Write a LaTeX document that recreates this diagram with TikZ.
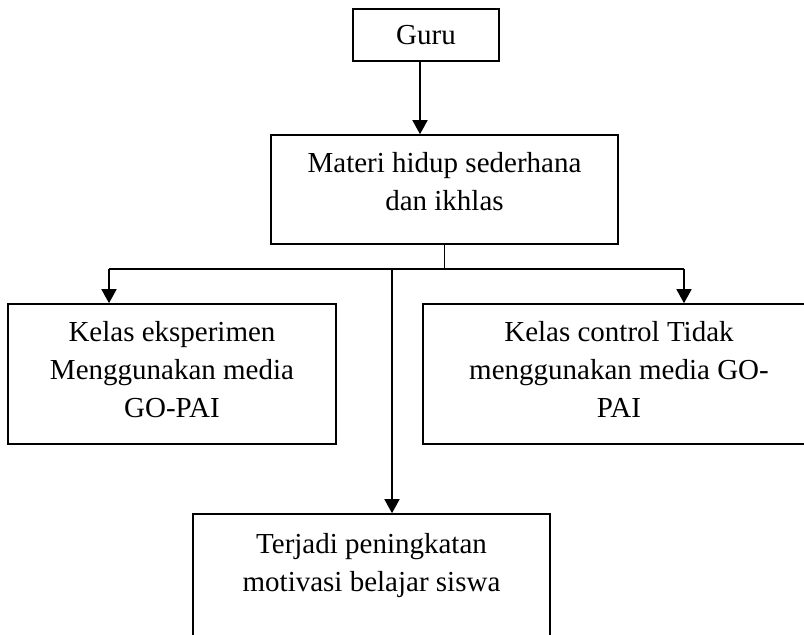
\documentclass[tikz,border=0pt]{standalone}
\usepackage{fontspec}
\setmainfont{Liberation Serif}
\usetikzlibrary{positioning,arrows.meta}

\begin{document}
\begin{tikzpicture}[x=0.5pt,y=-0.5pt,
  box/.style={draw,line width=0.8pt,inner sep=0pt},
  txt/.style={inner sep=0pt,align=center,font=\fontsize{14.5pt}{19pt}\selectfont},
  line/.style={line width=0.8pt},
  arr/.style={line width=0.8pt,-{Triangle[length=7pt,width=7.5pt]}}]
  \useasboundingbox (0,0) rectangle (804,635);
  \clip (0,0) rectangle (804,635);
  % boxes
  \node[box,txt,minimum width=73pt,minimum height=26pt] (guru) at (426,35) {Guru};
  \node[box,minimum width=173.5pt,minimum height=54.5pt] (materi) at (444.5,189.5) {};
  \node[txt,below=9pt of materi.north] (materitxt) {Materi hidup sederhana\\dan ikhlas};
  \node[box,minimum width=164pt,minimum height=70pt] (eksp) at (172,374) {};
  \node[txt,below=9pt of eksp.north] (eksptxt) {Kelas eksperimen\\Menggunakan media\\GO-PAI};
  \node[box,minimum width=196pt,minimum height=70pt] (kontrol) at (619,374) {};
  \node[txt,below=9pt of kontrol.north] (kontroltxt) {Kelas control Tidak\\menggunakan media GO-\\PAI};
  \node[box,minimum width=178.5pt,minimum height=65pt] (hasil) at (371.5,579) {};
  \node[txt,below=10pt of hasil.north] (hasiltxt) {Terjadi peningkatan\\motivasi belajar siswa};
  % bus
  \coordinate (busL) at (109,269);
  \coordinate (busR) at (684,269);
  \coordinate (busM) at (392,269);
  % connectors
  \draw[arr] ([xshift=-3pt]guru.south) -- ([xshift=-3pt]guru.south |- materi.north);
  \draw[line] (materi.south) -- (materi.south |- busL) (busL) -- (busR);
  \draw[arr] (busL) -- (busL |- eksp.north);
  \draw[arr] (busR) -- (busR |- kontrol.north);
  \draw[arr] (busM) -- (busM |- hasil.north);
\end{tikzpicture}
\end{document}
